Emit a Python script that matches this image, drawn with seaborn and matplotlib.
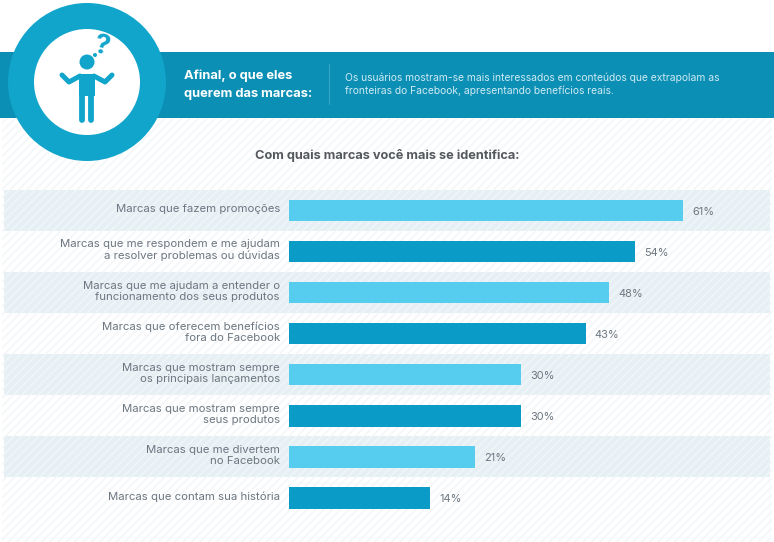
import pandas as pd
import matplotlib.pyplot as plt
import seaborn as sns
from matplotlib.patches import Circle, Rectangle

categorias = [
    'Marcas que fazem promoções',
    'Marcas que me respondem e me ajudam\na resolver problemas ou dúvidas',
    'Marcas que me ajudam a entender o\nfuncionamento dos seus produtos',
    'Marcas que oferecem benefícios\nfora do Facebook',
    'Marcas que mostram sempre\nos principais lançamentos',
    'Marcas que mostram sempre\nseus produtos',
    'Marcas que me divertem\nno Facebook',
    'Marcas que contam sua história',
]
rotulos = ['61%', '54%', '48%', '43%', '30%', '30%', '21%', '14%']
# the printed bars are not to scale with their labels, so lengths are read separately
comprimentos = [61, 53.6, 49.6, 45.9, 35.9, 35.9, 28.8, 21.9]
tons = ['claro', 'escuro', 'claro', 'escuro', 'claro', 'escuro', 'claro', 'escuro']

AZUL_CLARO = '#56cdef'
AZUL_ESCURO = '#0a9cc7'
FAIXA = '#0b8fb5'
CIRCULO = '#12a5cc'
CINZA = '#6d7680'

sns.set_theme(style='white')
plt.rcParams['font.family'] = ['Inter', 'DejaVu Sans']
plt.rcParams['hatch.linewidth'] = 1.2

W, H = 774, 542
fig = plt.figure(figsize=(W / 100, H / 100), dpi=100, facecolor='white')

# page background and header, in pixel coordinates
fundo = fig.add_axes([0, 0, 1, 1], zorder=0)
fundo.set_xlim(0, W)
fundo.set_ylim(H, 0)
fundo.axis('off')
fundo.add_patch(Rectangle((2, 118), 770, 424, facecolor='#ffffff', edgecolor='#f3f7f9', hatch='////', lw=0))

# bars
ax = fig.add_axes([4 / W, 1 - 518.5 / H, 766 / W, 328.5 / H], zorder=1)
ax.patch.set_alpha(0)
df = pd.DataFrame({'categoria': categorias, 'valor': comprimentos, 'tom': tons})
sns.barplot(data=df, y='categoria', x='valor', hue='tom', dodge=False, width=0.52, saturation=1,
            linewidth=0, palette={'claro': AZUL_CLARO, 'escuro': AZUL_ESCURO}, legend=False, ax=ax)
ax.set_xlim(-285 / 6.46, 481 / 6.46)
ax.set_ylim(7.5, -0.5)
ax.set_xlabel('')
ax.set_ylabel('')
ax.set_xticks([])
ax.set_yticks([])
sns.despine(ax=ax, left=True, bottom=True)

for i in range(len(categorias)):
    if i % 2 == 0 and i < 7:
        ax.axhspan(i - 0.5, i + 0.5, facecolor='#e6f0f4', edgecolor='#f0f6f8', hatch='////', lw=0, zorder=0)
    ax.annotate(categorias[i], xy=(0, i), xytext=(-6.5, 1), textcoords='offset points',
                ha='right', va='center', ma='right', fontsize=8.2, color=CINZA, linespacing=1.12)
    ax.annotate(rotulos[i], xy=(comprimentos[i], i), xytext=(6.5, -1), textcoords='offset points',
                ha='left', va='center', fontsize=7.9, color=CINZA)

# header on top of everything
topo = fig.add_axes([0, 0, 1, 1], zorder=2)
topo.set_xlim(0, W)
topo.set_ylim(H, 0)
topo.axis('off')
topo.patch.set_alpha(0)
topo.add_patch(Rectangle((0, 52), W, 66, facecolor=FAIXA, lw=0))
topo.add_patch(Circle((87, 82), 79, facecolor=CIRCULO, lw=0))
topo.add_patch(Circle((87, 82), 53, facecolor='white', lw=0))

# person icon
topo.add_patch(Circle((87, 62), 7.5, facecolor=CIRCULO, lw=0))
topo.add_patch(Rectangle((79, 74), 15.5, 22, facecolor=CIRCULO, lw=0))
topo.plot([82.3, 82.3], [92, 120], color=CIRCULO, lw=4.2, solid_capstyle='round')
topo.plot([91.2, 91.2], [92, 120], color=CIRCULO, lw=4.2, solid_capstyle='round')
topo.plot([62, 69, 80], [75, 82, 76], color=CIRCULO, lw=3.6, solid_capstyle='round', solid_joinstyle='round')
topo.plot([112, 105, 94], [75, 82, 76], color=CIRCULO, lw=3.6, solid_capstyle='round', solid_joinstyle='round')
topo.text(102, 47, '?', fontsize=20, fontweight='bold', color=CIRCULO, rotation=-12, ha='center', va='center')
topo.add_patch(Circle((95, 55), 2, facecolor=CIRCULO, lw=0))

topo.text(184, 76, 'Afinal, o que eles', fontsize=9.3, fontweight='bold', color='white', va='center')
topo.text(184, 94, 'querem das marcas:', fontsize=9.3, fontweight='bold', color='white', va='center')
topo.plot([328.5, 328.5], [64, 104], color='#3aa6c6', lw=0.8)
topo.text(345, 78, 'Os usuários mostram-se mais interessados em conteúdos que extrapolam as',
          fontsize=7.45, color='#cfeaf3', va='center')
topo.text(345, 91, 'fronteiras do Facebook, apresentando benefícios reais.',
          fontsize=7.45, color='#cfeaf3', va='center')
topo.text(387, 155, 'Com quais marcas você mais se identifica:', fontsize=9.2, fontweight='bold',
          color='#55595e', ha='center', va='center')

fig.savefig('out.png', dpi=100)
